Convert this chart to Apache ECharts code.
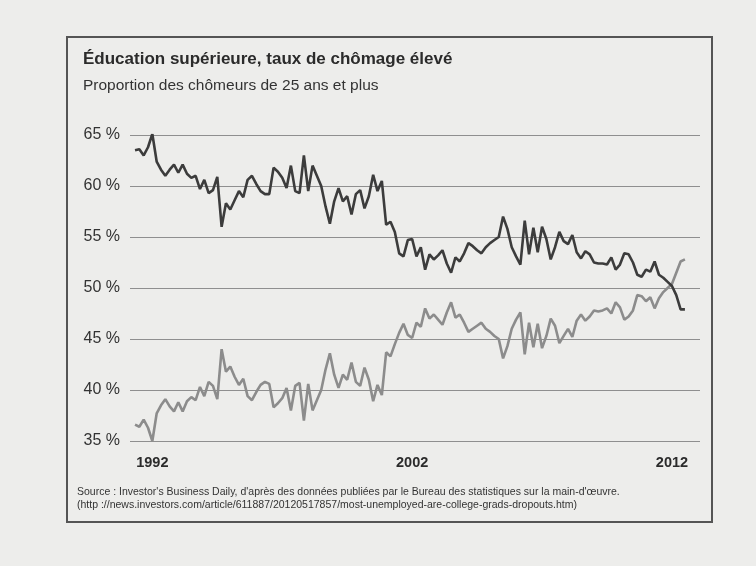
<!DOCTYPE html>
<html>
<head>
<meta charset="utf-8">
<script src="https://cdn.jsdelivr.net/npm/echarts@6/dist/echarts.min.js"></script>
<style>
  html, body { margin: 0; padding: 0; background: #ededeb; }
  #chart { width: 756px; height: 566px; }
</style>
</head>
<body>
<div id="chart"></div>
<script>
// monthly sampling, every second month, starting May 1991
const startYear = 1991
const startMonth = 5
const stepMonths = 2

const yearLabels = [1992, 2002, 2012]

// sans diplome universitaire (trait fonce)
const darkValues = [
  63.5, 63.6, 63.0, 63.8, 65.1, 62.4, 61.6, 61.0, 61.6, 62.1,
  61.3, 62.1, 61.2, 60.8, 61.0, 59.7, 60.6, 59.3, 59.6, 60.9,
  56.0, 58.3, 57.7, 58.6, 59.5, 58.9, 60.6, 61.0, 60.2, 59.5,
  59.2, 59.2, 61.8, 61.4, 60.8, 59.8, 62.0, 59.5, 59.3, 63.0,
  59.5, 62.0, 61.0, 60.0, 58.0, 56.3, 58.5, 59.8, 58.5, 59.0,
  57.2, 59.2, 59.6, 57.8, 59.0, 61.1, 59.5, 60.5, 56.2, 56.5,
  55.5, 53.4, 53.1, 54.7, 54.8, 53.1, 54.0, 51.8, 53.3, 52.8,
  53.2, 53.7, 52.4, 51.5, 53.0, 52.6, 53.4, 54.4, 54.1, 53.7,
  53.4, 54.0, 54.4, 54.7, 55.0, 57.0, 55.8, 54.0, 53.1, 52.3,
  56.6, 53.3, 55.9, 53.5, 56.0, 54.8, 52.8, 54.0, 55.5, 54.6,
  54.3, 55.2, 53.5, 52.9, 53.6, 53.3, 52.5, 52.4, 52.4, 52.3,
  53.0, 51.8, 52.3, 53.4, 53.3, 52.5, 51.3, 51.1, 51.8, 51.6,
  52.6, 51.3, 51.0, 50.6, 50.2, 49.3, 47.9, 47.9
]

// avec diplome universitaire (trait gris)
const grayValues = [
  36.6, 36.4, 37.1, 36.3, 35.0, 37.7, 38.5, 39.1, 38.4, 37.9,
  38.8, 37.9, 38.9, 39.3, 39.0, 40.3, 39.4, 40.8, 40.4, 39.1,
  44.0, 41.8, 42.3, 41.3, 40.5, 41.1, 39.4, 39.0, 39.8, 40.5,
  40.8, 40.6, 38.3, 38.7, 39.2, 40.2, 38.0, 40.4, 40.7, 37.0,
  40.6, 38.0, 39.0, 40.0, 42.0, 43.6, 41.5, 40.2, 41.5, 41.0,
  42.7, 40.8, 40.4, 42.2, 41.0, 38.9, 40.5, 39.5, 43.7, 43.3,
  44.5, 45.6, 46.5, 45.4, 45.1, 46.6, 46.2, 48.0, 47.0, 47.4,
  46.9, 46.4, 47.6, 48.6, 47.1, 47.4, 46.6, 45.7, 46.0, 46.3,
  46.6, 46.0, 45.7, 45.3, 45.0, 43.1, 44.3, 46.0, 46.9, 47.6,
  43.5, 46.6, 44.2, 46.5, 44.1, 45.3, 47.0, 46.3, 44.6, 45.3,
  46.0, 45.2, 46.8, 47.4, 46.8, 47.2, 47.8, 47.7, 47.8, 48.0,
  47.5, 48.6, 48.1, 46.9, 47.2, 47.8, 49.3, 49.2, 48.7, 49.1,
  48.0, 49.0, 49.6, 50.0, 50.4, 51.5, 52.6, 52.8
]

const titleText = 'Éducation supérieure, taux de chômage élevé'
const subtitleText = 'Proportion des chômeurs de 25 ans et plus'
const sourceText = "Source : Investor's Business Daily, d'après des données publiées par le Bureau des statistiques sur la main-d'œuvre.\n" +
  '(http ://news.investors.com/article/611887/20120517857/most-unemployed-are-college-grads-dropouts.htm)'

// decimal year of each sample
function yearAt(i) {
  return startYear + (startMonth - 1 + i * stepMonths) / 12
}

const darkData = darkValues.map((v, i) => [yearAt(i), v])
const grayData = grayValues.map((v, i) => [yearAt(i), v])

const chart = echarts.init(document.getElementById('chart'), null, { renderer: 'canvas' })

chart.setOption({
  animation: false,
  backgroundColor: '#ededeb',
  textStyle: { fontFamily: 'Liberation Sans, Arial, sans-serif' },
  title: [
    {
      text: titleText,
      left: 83,
      top: 51,
      padding: 0,
      textStyle: { fontSize: 17, fontWeight: 'bold', color: '#2b2b2b' }
    },
    {
      text: subtitleText,
      left: 83,
      top: 78,
      padding: 0,
      textStyle: { fontSize: 15.5, fontWeight: 'normal', color: '#333' }
    },
    {
      text: sourceText,
      left: 77,
      top: 486,
      padding: 0,
      textStyle: {
        fontSize: 10.5,
        lineHeight: 13,
        fontWeight: 'normal',
        color: '#333'
      }
    }
  ],
  graphic: [{
    type: 'rect',
    shape: { x: 67, y: 37, width: 645, height: 485 },
    style: { fill: 'transparent', stroke: '#555', lineWidth: 2 },
    silent: true
  }],
  grid: { left: 130, right: 56, top: 135, bottom: 125, containLabel: false },
  xAxis: {
    type: 'value',
    min: 1991.14,
    max: 2013.08,
    axisLine: { show: false },
    axisTick: { show: false },
    splitLine: { show: false },
    axisLabel: {
      customValues: yearLabels,
      formatter: v => String(Math.round(v)),
      margin: 14,
      fontSize: 14.5,
      fontWeight: 'bold',
      color: '#2b2b2b'
    }
  },
  yAxis: {
    type: 'value',
    min: 35,
    max: 65,
    interval: 5,
    axisLine: { show: false },
    axisTick: { show: false },
    axisLabel: {
      formatter: '{value} %',
      margin: 10,
      fontSize: 16,
      color: '#333'
    },
    splitLine: { lineStyle: { color: '#8f8f8f', width: 1.2 } }
  },
  series: [
    {
      name: 'gris',
      type: 'line',
      data: grayData,
      showSymbol: false,
      lineStyle: { color: '#8c8c8c', width: 2.6 },
      z: 2
    },
    {
      name: 'fonce',
      type: 'line',
      data: darkData,
      showSymbol: false,
      lineStyle: { color: '#3c3c3c', width: 2.6 },
      z: 3
    }
  ]
})
</script>
</body>
</html>
